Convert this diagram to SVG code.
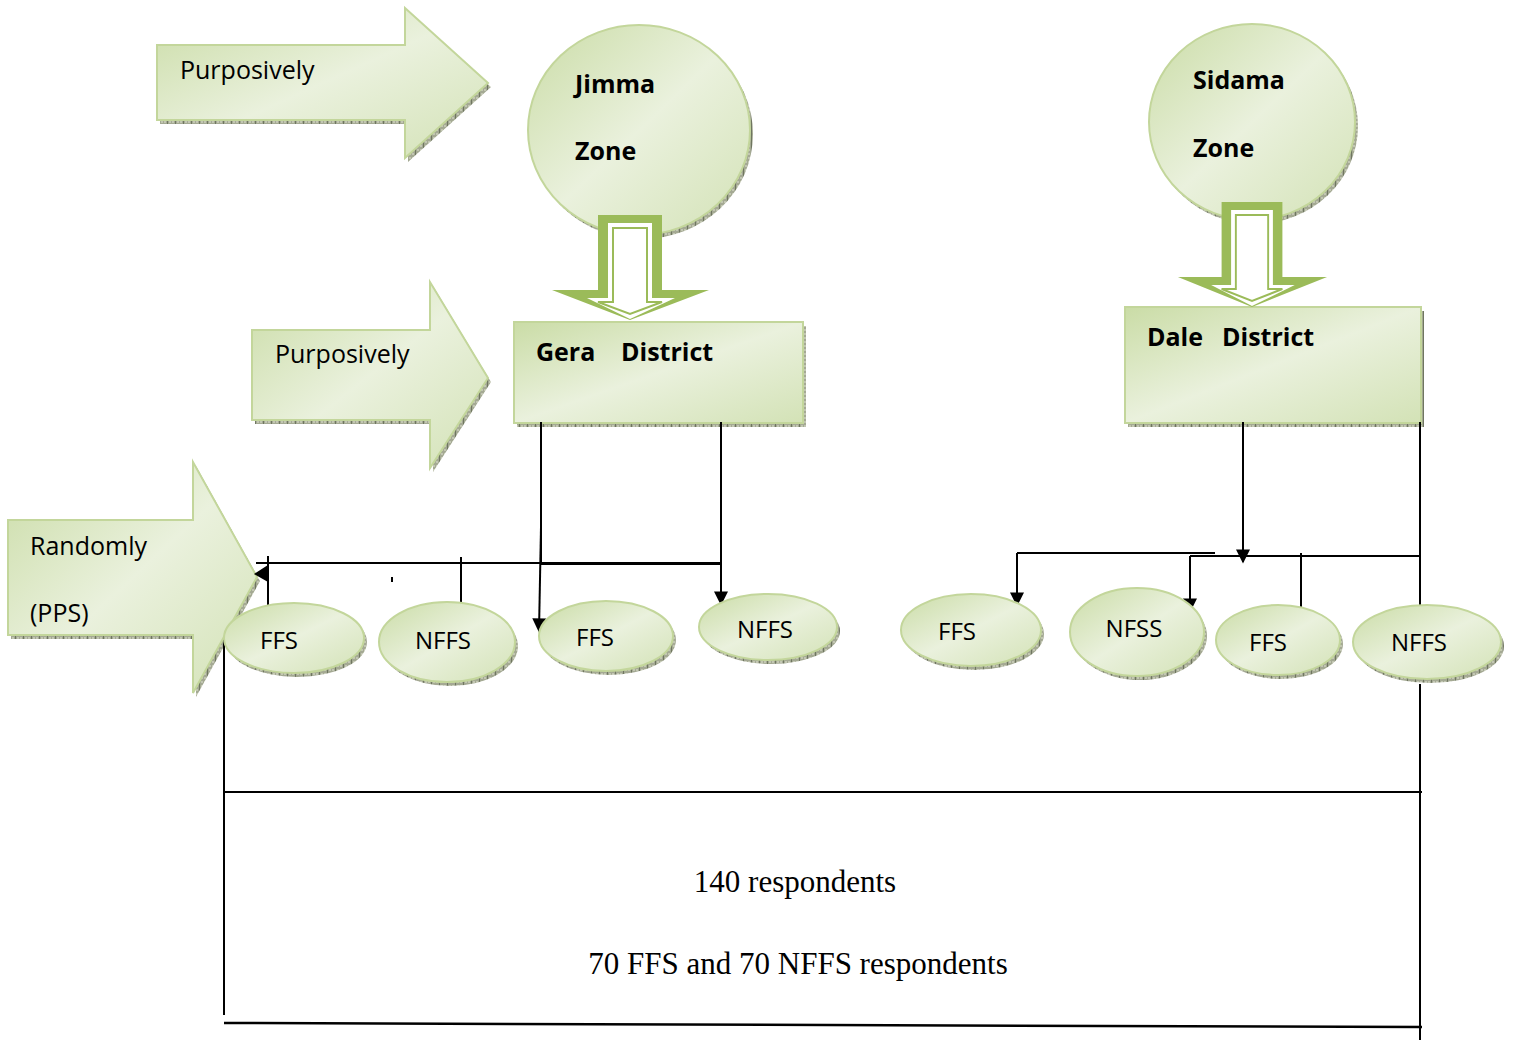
<svg xmlns="http://www.w3.org/2000/svg" width="1515" height="1040" viewBox="0 0 1515 1040">
<style>
.sh{fill:url(#hatch)}
.sp{fill:url(#g1);stroke:#C3D69B;stroke-width:2}
.lbl{font-family:"Open Sans","Noto Sans",sans-serif;font-size:25px;fill:#000}
.b{font-weight:bold}
.el{font-family:"Open Sans","Noto Sans",sans-serif;font-size:24px;fill:#000;text-anchor:middle}
.ln{stroke:#000;stroke-width:2;fill:none}
.tm{font-family:"Liberation Serif","Times New Roman",serif;font-size:31px;fill:#000;text-anchor:middle}
</style>
<defs>
<linearGradient id="g1" x1="0" y1="0" x2="1" y2="1">
<stop offset="0" stop-color="#CADCA6"/>
<stop offset="0.5" stop-color="#EAF1DD"/>
<stop offset="1" stop-color="#D3E2B6"/>
</linearGradient>
<pattern id="hatch" width="8" height="4" patternUnits="userSpaceOnUse">
<rect width="8" height="4" fill="#A4A993"/>
<rect x="1" y="1" width="2" height="2" fill="#C2C6B2"/>
<rect x="4" y="1" width="2" height="2" fill="#C2C6B2"/>
<rect x="7" y="0" width="1" height="4" fill="#6F7660"/>
</pattern>
<marker id="ah2" viewBox="0 0 10 10" refX="9" refY="5" markerWidth="16" markerHeight="14" orient="auto" markerUnits="userSpaceOnUse">
<path d="M0,0 L10,5 L0,10 z" fill="#000"/>
</marker>
<g id="harrow">
<polygon points="-32,0 32,0 32,75 79,75 0,105 -78,75 -32,75" fill="#9BBB59"/>
<polygon points="-22,8 22,8 22,83 45,83 0,104 -43,83 -22,83" fill="#FFFFFF"/>
<polygon points="-17,13 17,13 17,87 32,87 0,99 -32,87 -17,87" fill="#FFFFFF" stroke="#9BBB59" stroke-width="2"/>
</g>
</defs>
<rect width="1515" height="1040" fill="#FFFFFF"/>

<g id="arrow-purposively-1">
<polygon class="sh" points="160,49 408,49 408,12 491,87 408,162 408,124 160,124"/>
<polygon class="sp" points="157,45 405,45 405,8 488,83 405,158 405,120 157,120"/>
<text class="lbl" x="180" y="79">Purposively</text>
</g>

<g id="arrow-purposively-2">
<polygon class="sh" points="255,334 433,334 433,286 491,382 433,472 433,424 255,424"/>
<polygon class="sp" points="252,330 430,330 430,282 488,378 430,468 430,420 252,420"/>
<text class="lbl" x="275" y="363">Purposively</text>
</g>

<g id="arrow-randomly">
<polygon class="sh" points="11,524 196,524 196,466 260,581 196,697 196,639 11,639"/>
<polygon class="sp" points="8,520 193,520 193,462 257,577 193,693 193,635 8,635"/>
<text class="lbl" x="30" y="555">Randomly</text>
<text class="lbl" x="30" y="622">(PPS)</text>
</g>

<g id="jimma-zone">
<ellipse class="sh" cx="642" cy="134" rx="111" ry="105"/>
<ellipse class="sp" cx="639" cy="130" rx="111" ry="105"/>
<text class="lbl b" x="575" y="93">Jimma</text>
<text class="lbl b" x="575" y="160">Zone</text>
</g>

<g id="sidama-zone">
<ellipse class="sh" cx="1255" cy="126" rx="103" ry="98"/>
<ellipse class="sp" cx="1252" cy="122" rx="103" ry="98"/>
<text class="lbl b" x="1193" y="89">Sidama</text>
<text class="lbl b" x="1193" y="157">Zone</text>
</g>

<g id="gera-district">
<rect class="sh" x="517" y="326" width="289" height="101"/>
<rect class="sp" x="514" y="322" width="289" height="101"/>
<text class="lbl b" x="536" y="361">Gera</text>
<text class="lbl b" x="621" y="361">District</text>
</g>

<g id="dale-district">
<rect class="sh" x="1128" y="311" width="296" height="116"/>
<rect class="sp" x="1125" y="307" width="296" height="116"/>
<text class="lbl b" x="1147" y="346">Dale</text>
<text class="lbl b" x="1222" y="346">District</text>
</g>

<g id="down-arrow-jimma">
<use href="#harrow" transform="translate(630,215)"/>
</g>
<g id="down-arrow-sidama">
<use href="#harrow" transform="translate(1252,202) scale(0.95,1)"/>
</g>

<g id="connectors">
<line class="ln" x1="224" y1="640" x2="224" y2="1015"/>
<line class="ln" x1="541" y1="422" x2="541" y2="563"/>
<line class="ln" x1="541" y1="527" x2="539" y2="631" marker-end="url(#ah2)"/>
<line class="ln" x1="721" y1="422" x2="721" y2="604" marker-end="url(#ah2)"/>
<line class="ln" x1="256" y1="563" x2="721" y2="563"/>
<line x1="541" y1="564" x2="721" y2="564" stroke="#000" stroke-width="2"/>
<polygon points="254,574 268,565 268,582" fill="#000"/>
<line class="ln" x1="268" y1="556" x2="268" y2="606"/>
<line class="ln" x1="461" y1="557" x2="461" y2="602"/>
<line class="ln" x1="392" y1="577" x2="392" y2="582"/>
<line class="ln" x1="1243" y1="422" x2="1243" y2="562" marker-end="url(#ah2)"/>
<line class="ln" x1="1017" y1="553" x2="1215" y2="553"/>
<line class="ln" x1="1190" y1="556" x2="1421" y2="556"/>
<line class="ln" x1="1017" y1="553" x2="1017" y2="605" marker-end="url(#ah2)"/>
<line class="ln" x1="1190" y1="556" x2="1190" y2="611" marker-end="url(#ah2)"/>
<line class="ln" x1="1301" y1="553" x2="1301" y2="607"/>
<line class="ln" x1="1420" y1="422" x2="1420" y2="606"/>
<line class="ln" x1="224" y1="792" x2="1422" y2="792"/>
<line x1="224" y1="1023" x2="1422" y2="1027" stroke="#000" stroke-width="2.5"/>
</g>

<g id="ffs-1">
<ellipse class="sh" cx="297" cy="642" rx="70" ry="35"/>
<ellipse class="sp" cx="294" cy="638" rx="70" ry="35"/>
<text class="el" x="279" y="649">FFS</text>
</g>
<g id="nffs-1">
<ellipse class="sh" cx="450" cy="646" rx="68" ry="40"/>
<ellipse class="sp" cx="447" cy="642" rx="68" ry="40"/>
<text class="el" x="443" y="649">NFFS</text>
</g>
<g id="ffs-2">
<ellipse class="sh" cx="609" cy="640" rx="67" ry="35"/>
<ellipse class="sp" cx="606" cy="636" rx="67" ry="35"/>
<text class="el" x="595" y="646">FFS</text>
</g>
<g id="nffs-2">
<ellipse class="sh" cx="771" cy="631" rx="69" ry="33"/>
<ellipse class="sp" cx="768" cy="627" rx="69" ry="33"/>
<text class="el" x="765" y="638">NFFS</text>
</g>
<g id="ffs-3">
<ellipse class="sh" cx="974" cy="634" rx="70" ry="36"/>
<ellipse class="sp" cx="971" cy="630" rx="70" ry="36"/>
<text class="el" x="957" y="640">FFS</text>
</g>
<g id="nfss">
<ellipse class="sh" cx="1140" cy="636" rx="67" ry="44"/>
<ellipse class="sp" cx="1137" cy="632" rx="67" ry="44"/>
<text class="el" x="1134" y="637">NFSS</text>
</g>
<g id="ffs-4">
<ellipse class="sh" cx="1281" cy="644" rx="62" ry="35"/>
<ellipse class="sp" cx="1278" cy="640" rx="62" ry="35"/>
<text class="el" x="1268" y="651">FFS</text>
</g>
<g id="nffs-4">
<ellipse class="sh" cx="1430" cy="646" rx="74" ry="37"/>
<ellipse class="sp" cx="1427" cy="642" rx="74" ry="37"/>
<text class="el" x="1419" y="651">NFFS</text>
</g>

<g id="connectors-over">
<line class="ln" x1="1420" y1="684" x2="1420" y2="1040"/>
</g>

<g id="summary">
<text class="tm" x="795" y="892">140 respondents</text>
<text class="tm" x="798" y="974">70 FFS and 70 NFFS respondents</text>
</g>
</svg>
